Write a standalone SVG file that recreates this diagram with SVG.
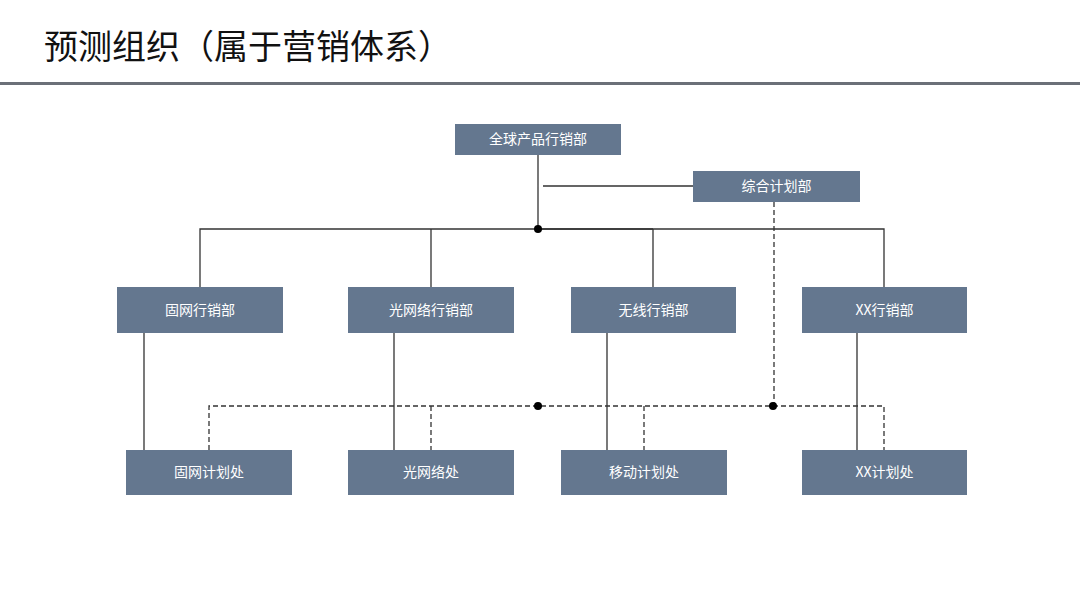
<svg xmlns="http://www.w3.org/2000/svg" width="1080" height="608" viewBox="0 0 1080 608">
<style>
.n rect{fill:#64778f}
.n text{fill:#ffffff;font-family:"Noto Sans CJK SC","Liberation Sans",sans-serif;font-size:14px;text-anchor:middle}
.s{stroke:#333;stroke-width:1.3;fill:none}
.d{stroke:#333;stroke-width:1.3;fill:none;stroke-dasharray:5 3}
.dot{fill:#000}
</style>
<rect width="1080" height="608" fill="#fff"/>
<text x="44" y="59" font-family="Noto Sans CJK SC,sans-serif" font-size="34" fill="#111">预测组织（属于营销体系）</text>
<rect x="0" y="82" width="1080" height="3" fill="#6b7078"/>
<g id="connectors">
<path class="s" d="M538 155V229M543 186H693M200 287V229H884V287M431 229V287M653 229V287"/>
<path class="s" stroke-width="2.2" d="M538 229H653"/>
<path class="s" d="M144 333V450M394 333V450M607 333V450M857 333V450"/>
<path class="d" d="M774 202V406M209 450V406H884V450M431 406V450M644 406V450"/>
<circle class="dot" cx="538" cy="229" r="4"/>
<circle class="dot" cx="538" cy="406" r="4"/>
<circle class="dot" cx="773" cy="406" r="4"/>
</g>
<g id="n1" class="n"><rect x="455" y="124" width="166" height="31"/><text x="538" y="144">全球产品行销部</text></g>
<g id="n2" class="n"><rect x="693" y="171" width="167" height="31"/><text x="776.5" y="191">综合计划部</text></g>
<g id="n3" class="n"><rect x="117" y="287" width="166" height="46"/><text x="200" y="315">固网行销部</text></g>
<g id="n4" class="n"><rect x="348" y="287" width="166" height="46"/><text x="431" y="315">光网络行销部</text></g>
<g id="n5" class="n"><rect x="571" y="287" width="165" height="46"/><text x="653.5" y="315">无线行销部</text></g>
<g id="n6" class="n"><rect x="802" y="287" width="165" height="46"/><text x="884.5" y="315">XX行销部</text></g>
<g id="n7" class="n"><rect x="126" y="450" width="166" height="45"/><text x="209" y="477">固网计划处</text></g>
<g id="n8" class="n"><rect x="348" y="450" width="166" height="45"/><text x="431" y="477">光网络处</text></g>
<g id="n9" class="n"><rect x="561" y="450" width="166" height="45"/><text x="644" y="477">移动计划处</text></g>
<g id="n10" class="n"><rect x="802" y="450" width="165" height="45"/><text x="884.5" y="477">XX计划处</text></g>
</svg>
